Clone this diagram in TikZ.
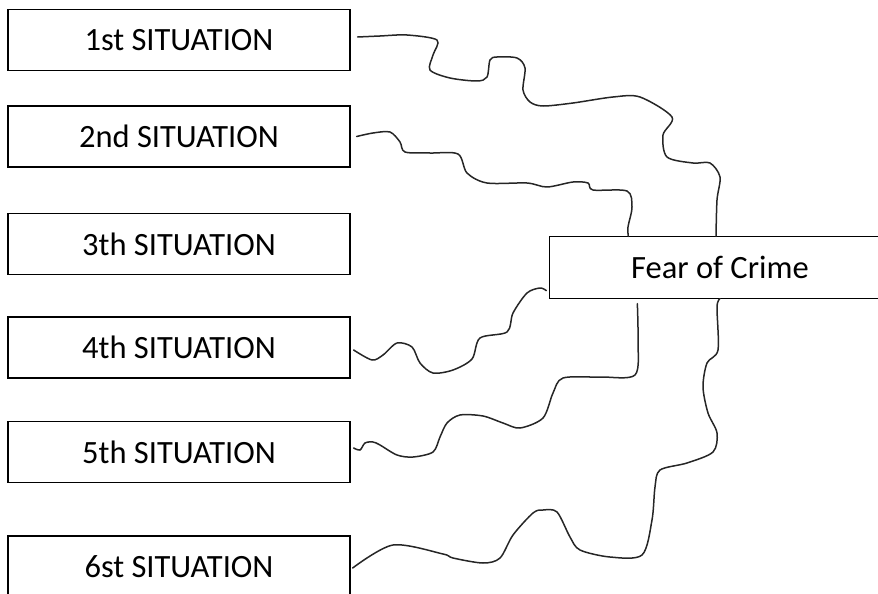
\documentclass[tikz,border=0pt]{standalone}
\usepackage{fontspec}
\setmainfont{Carlito}
\begin{document}
\begin{tikzpicture}[x=1pt,y=-1pt,
  sitbox/.style={draw=black,line width=1.3pt,minimum width=342pt,minimum height=61pt,inner sep=0pt,font=\fontsize{32.5}{38}\selectfont},
  openbox/.style={sitbox,draw=none},
  boxline/.style={draw=black,line width=1.3pt},
  wire/.style={draw=black!85,line width=1.5pt,line join=round,line cap=round}]
\useasboundingbox (0,0) rectangle (878,594);
\clip (0,0) rectangle (878,594);
\node[sitbox] (s1) at (179,40) {1st SITUATION};
\node[sitbox] (s2) at (179,136.5) {2nd SITUATION};
\node[sitbox] (s3) at (179,244) {3th SITUATION};
\node[sitbox] (s4) at (179,347.5) {4th SITUATION};
\node[sitbox] (s5) at (179,452) {5th SITUATION};
\node[sitbox] (s6) at (179,566.5) {6st SITUATION};
\node[openbox,minimum width=380pt] (fear) at (740,267.5) {Fear of Crime\hspace*{40pt}};
\draw[boxline] (fear.north east) -- (fear.north west) -- (fear.south west) -- (fear.south east);
% 1st
\draw[wire] plot[smooth,tension=0.5] coordinates {([shift={(7,-3)}]s1.east) (380,36) (407,35) (437,40) (433,55) (430,70) (450,78) (477,81) (487,77) (490,60) (497,57) (517,58) (525,68) (523,90) (530,102) (543,106) (573,103) (613,97) (640,97) (672,117) (663,135) (667,157) (693,163) (710,163) (720,177) (717,200) ([xshift=-24pt]fear.north)};
% 2nd
\draw[wire] plot[smooth,tension=0.5] coordinates {([xshift=6pt]s2.east) (373,133) (390,132) (400,142) (405,152) (430,153) (458,154) (467,173) (487,183) (527,183) (547,187) (573,182) (588,183) (593,190) (627,191) (632,207) (628,227) ([xshift=79pt]fear.north west)};
% 4th
\draw[wire] plot[smooth,tension=0.5] coordinates {([shift={(3,2.5)}]s4.east) (372,360) (383,355) (397,343) (412,347) (420,363) (433,373) (453,370) (472,359) (480,338) (507,332) (513,313) (527,293) (540,288) ([shift={(-3,-8)}]fear.south west)};
% 5th
\draw[wire] plot[smooth,tension=0.5] coordinates {([shift={(88,5)}]fear.south west) (638,340) (635,375) (600,377) (563,378) (553,393) (543,418) (520,428) (503,423) (483,416) (460,415) (447,423) (440,437) (433,452) (413,457) (397,455) (380,445) (373,442) (365,443) (360,450) ([shift={(3,-4)}]s5.east)};
% 6th
\draw[wire] plot[smooth,tension=0.5] coordinates {([xshift=-20pt]fear.south) (717,307) (718,350) (707,363) (703,387) (708,413) (717,433) (713,452) (687,463) (660,470) (655,487) (652,520) (642,555) (610,557) (580,550) (570,537) (557,512) (543,510) (533,513) (513,535) (500,558) (483,563) (453,558) (443,554) (393,545) ([shift={(2,1.5)}]s6.east)};
\end{tikzpicture}
\end{document}
